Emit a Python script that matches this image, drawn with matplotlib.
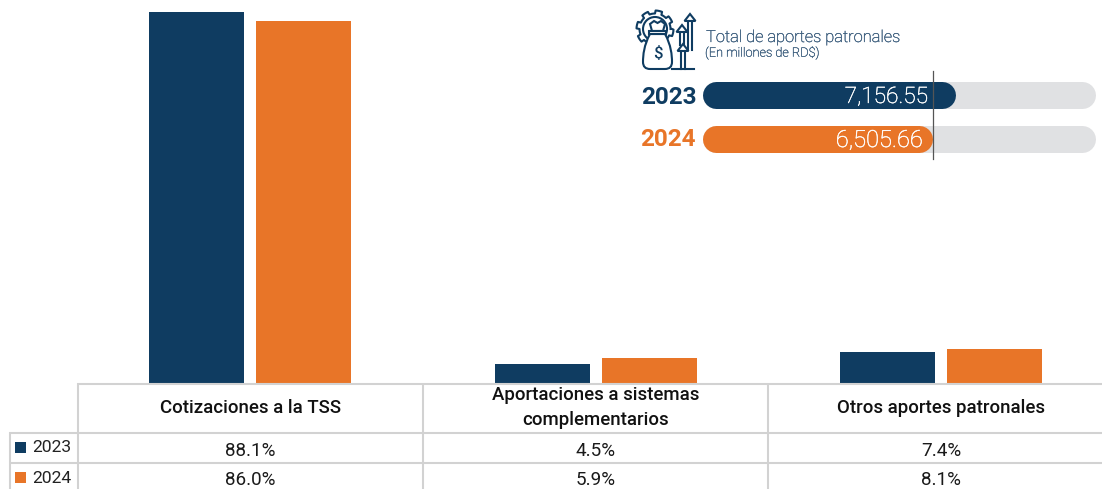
import matplotlib.pyplot as plt
import matplotlib.patheffects as pe
import numpy as np
from matplotlib.patches import Circle, PathPatch, Polygon
from matplotlib.path import Path

plt.rcParams['font.family'] = ['Roboto', 'DejaVu Sans']

categories = ['Cotizaciones a la TSS', 'Aportaciones a sistemas\ncomplementarios', 'Otros aportes patronales']
years = ['2023', '2024']
share_2023 = [88.1, 4.5, 7.4]
share_2024 = [86.0, 5.9, 8.1]
total_2023 = 7156.55
total_2024 = 6505.66

navy = '#0f3c61'
orange = '#e87528'
pale = '#e0e1e3'
grid = '#d2d2d2'
W, H = 1102, 489

fig = plt.figure(figsize=((W + 0.01) / 100, (H + 0.01) / 100), dpi=100)


def px_axes(x0, y0, x1, y1):
    return fig.add_axes([x0 / W, 1 - y1 / H, (x1 - x0) / W, (y1 - y0) / H])


# columns
ax = px_axes(77.5, 0, W, 383)
x = np.arange(len(categories))
ax.bar(x - 0.155, share_2023, 0.276, color=navy)
ax.bar(x + 0.155, share_2024, 0.276, color=orange)
ax.set_xlim(-0.5, (W - 77.5) / 345.5 - 0.5)
ax.set_ylim(0, 383 / 4.21)
ax.axis('off')

# overlay in pixels for the table, the icon and the captions
ov = fig.add_axes([0, 0, 1, 1], facecolor='none')
ov.set_xlim(0, W)
ov.set_ylim(H, 0)
ov.axis('off')
ov.set_zorder(5)

for y, x0 in [(384, 77), (433, 9), (463, 9)]:
    ov.plot([x0, W], [y, y], color=grid, lw=1.5, solid_capstyle='butt')
for xv, y0 in [(78, 383), (423, 383), (768, 383), (9.5, 432)]:
    ov.plot([xv, xv], [y0, H], color=grid, lw=1.5, solid_capstyle='butt')

for i, cat in enumerate(categories):
    cx = 250.5 + 345.3 * i
    ov.text(cx, 407.5, cat, ha='center', va='center', fontsize=13.4, fontweight='medium',
            color='#111111', linespacing=1.48)
    ov.text(cx, 450.5, f'{share_2023[i]}%', ha='center', va='center', fontsize=13.6, color='#1a1a1a')
    ov.text(cx, 479.5, f'{share_2024[i]}%', ha='center', va='center', fontsize=13.6, color='#1a1a1a')

for y, yr, col, ty in [(447.5, years[0], navy, 447.5), (477, years[1], orange, 478)]:
    ov.add_patch(plt.Rectangle((15, y - 5), 11, 11, color=col, lw=0))
    ov.text(32, ty, yr, ha='left', va='center', fontsize=12.6, color='#222222')

# totals
scale = 28.35
ins = px_axes(702.7, 71, 1095.7, 160)
ins.set_xlim(0, 393 * scale)
ins.set_ylim(89, 0)
ins.axis('off')
r = 13.5 * scale
bar_lw = 27 * 0.72
full = 393 * scale
for y, v, col in [(24.5, total_2023, navy), (68.5, total_2024, orange)]:
    ins.plot([r, full - r], [y, y], color=pale, lw=bar_lw, solid_capstyle='round')
    ins.plot([r, v - r], [y, y], color=col, lw=bar_lw, solid_capstyle='round')
ov.plot([933.3, 933.3], [71, 159], color='#555555', lw=0.9)
# light weight renders too thin here, a hairline stroke brings it back
thin = [pe.withStroke(linewidth=0.3, foreground='white')]
ins.text(total_2023 - 27 * scale, 25.5, f'{total_2023:,.2f}', ha='right', va='center', fontsize=16.3,
         fontweight='light', color='white', path_effects=thin)
ins.text(total_2024 - 9 * scale, 69.5, f'{total_2024:,.2f}', ha='right', va='center', fontsize=17,
         fontweight='light', color='white', path_effects=thin)

ov.text(697, 97.5, years[0], ha='right', va='center', fontsize=17.5, fontweight='bold', color=navy)
ov.text(696, 139.5, years[1], ha='right', va='center', fontsize=17.5, fontweight='bold', color=orange)
thin_blue = [pe.withStroke(linewidth=0.25, foreground='#3a5c7c')]
ov.text(706, 37.5, 'Total de aportes patronales', ha='left', va='center', fontsize=11.85,
        fontweight='light', color='#3a5c7c', path_effects=thin_blue)
ov.text(705, 53, '(En millones de RD$)', ha='left', va='center', fontsize=9.2,
        fontweight='light', color='#3a5c7c', parse_math=False, path_effects=thin_blue)

# icon
lw = 1.5
angles = np.linspace(0, 2 * np.pi, 193)
gr = 17 + 1.5 * np.sign(np.sin(angles * 8))
ov.plot(655 + gr * np.cos(angles), 29 + gr * np.sin(angles), color=navy, lw=lw)
ov.add_patch(Circle((655, 29), 12, fill=False, ec=navy, lw=lw))
bag = Path([(650, 34), (644, 45), (643, 55), (643, 62), (643, 69), (650, 69), (665, 69), (672, 69), (672, 62),
            (672, 55), (671, 45), (665, 34), (650, 34)],
           [Path.MOVETO, Path.CURVE4, Path.CURVE4, Path.CURVE4, Path.CURVE3, Path.CURVE3, Path.LINETO,
            Path.CURVE3, Path.CURVE3, Path.CURVE4, Path.CURVE4, Path.CURVE4, Path.CLOSEPOLY])
ov.add_patch(PathPatch(bag, fc='white', ec=navy, lw=lw, zorder=4))
ov.add_patch(Polygon([(650, 24), (654, 21), (657.5, 23), (661, 21), (665, 24), (663, 31), (652, 31)],
                     fc='white', ec=navy, lw=lw, zorder=5))
ov.add_patch(plt.Rectangle((649, 31), 17, 3.5, fc='white', ec=navy, lw=lw, zorder=5))
ov.text(657.5, 53, '$', ha='center', va='center', fontsize=12, fontweight='medium', color=navy, zorder=6,
        parse_math=False)
for ax_x, top, bottom, hw in [(690, 14, 50, 5.5), (682, 25, 45, 5.5), (683, 44, 69, 5.5)]:
    ov.add_patch(Polygon([(ax_x - hw, top + 7), (ax_x, top), (ax_x + hw, top + 7)], fc='white',
                         ec=navy, lw=lw, zorder=5))
    ov.plot([ax_x - 2, ax_x - 2], [top + 7, bottom], color=navy, lw=lw, zorder=5)
    ov.plot([ax_x + 2, ax_x + 2], [top + 7, bottom], color=navy, lw=lw, zorder=5)
ov.plot([672, 694], [69, 69], color=navy, lw=lw, zorder=5)

fig.savefig('out.png', dpi=100)
